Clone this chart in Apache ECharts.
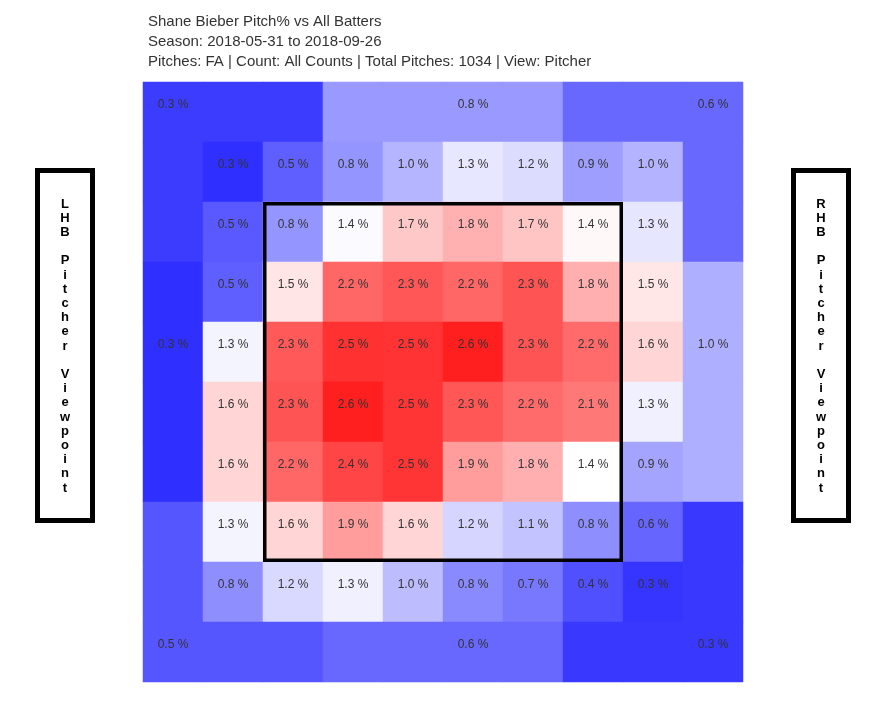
<!DOCTYPE html>
<html>
<head>
<meta charset="utf-8">
<script src="https://cdn.jsdelivr.net/npm/echarts@6/dist/echarts.min.js"></script>
<style>
  html, body { margin: 0; padding: 0; background: #fff; }
  #chart { width: 875px; height: 702px; }
</style>
</head>
<body>
<div id="chart"></div>
<script>
// ---------------- DATA ----------------
const titleLines = [
  'Shane Bieber Pitch% vs All Batters',
  'Season: 2018-05-31 to 2018-09-26',
  'Pitches: FA | Count: All Counts | Total Pitches: 1034 | View: Pitcher'
];
const leftLabel = 'LHB Pitcher Viewpoint';
const rightLabel = 'RHB Pitcher Viewpoint';

// inner 8x8 cells (pitch %), top row first, left column first
const innerRow1 = [0.26, 0.52, 0.82, 0.99, 1.27, 1.21, 0.87, 0.98];
const innerRow2 = [0.49, 0.82, 1.37, 1.70, 1.83, 1.72, 1.44, 1.26];
const innerRow3 = [0.52, 1.54, 2.24, 2.32, 2.24, 2.34, 1.84, 1.53];
const innerRow4 = [1.34, 2.31, 2.53, 2.52, 2.63, 2.34, 2.21, 1.63];
const innerRow5 = [1.63, 2.34, 2.63, 2.51, 2.33, 2.22, 2.14, 1.32];
const innerRow6 = [1.63, 2.24, 2.42, 2.51, 1.94, 1.84, 1.40, 0.90];
const innerRow7 = [1.34, 1.63, 1.94, 1.63, 1.17, 1.07, 0.78, 0.56];
const innerRow8 = [0.78, 1.19, 1.32, 1.03, 0.76, 0.66, 0.44, 0.29];
const innerRows = [innerRow1, innerRow2, innerRow3, innerRow4, innerRow5, innerRow6, innerRow7, innerRow8];

// outer zones: top-left, top-middle, top-right, left-middle, right-middle, bottom-left, bottom-middle, bottom-right
const zoneNames  = ['TL', 'TM', 'TR', 'LM', 'RM', 'BL', 'BM', 'BR'];
const zoneValues = [0.33, 0.84, 0.57, 0.26, 0.96, 0.47, 0.57, 0.31];

// ---------------- LAYOUT ----------------
const N = 10;
const cats = Array.from({length: N}, (_, i) => String(i));
// cell (col,row) where each zone's label is shown
const zoneLabelCell = { TL: [0, 0], TM: [5, 0], TR: [9, 0], LM: [0, 4], RM: [9, 4], BL: [0, 9], BM: [5, 9], BR: [9, 9] };
const strikeZone = [[2, 2, 7, 7]]; // colStart,rowStart,colEnd,rowEnd (category indices)

function zoneOf(r, c) {
  if (r === 0) return c <= 2 ? 'TL' : (c <= 6 ? 'TM' : 'TR');
  if (r === N - 1) return c <= 2 ? 'BL' : (c <= 6 ? 'BM' : 'BR');
  if (c === 0) return r <= 2 ? 'TL' : (r <= 6 ? 'LM' : 'BL');
  return r <= 2 ? 'TR' : (r <= 6 ? 'RM' : 'BR');
}

const heatData = [];
for (let r = 0; r < N; r++) {
  for (let c = 0; c < N; c++) {
    if (r >= 1 && r <= 8 && c >= 1 && c <= 8) {
      heatData.push({ value: [c, r, innerRows[r - 1][c - 1]], label: { show: true } });
    } else {
      const z = zoneOf(r, c);
      const v = zoneValues[zoneNames.indexOf(z)];
      const lc = zoneLabelCell[z];
      heatData.push({ value: [c, r, v], label: { show: lc[0] === c && lc[1] === r } });
    }
  }
}

const FONT = '"Liberation Sans", Arial, Helvetica, sans-serif';
function sideText(s) { return s.split('').map(ch => ch === ' ' ? ' ' : ch).join('\n'); }

const chart = echarts.init(document.getElementById('chart'), null, { renderer: 'canvas' });
chart.setOption({
  backgroundColor: '#fff',
  animation: false,
  title: {
    text: titleLines.join('\n'),
    left: 148, top: 12, padding: 0,
    textStyle: { fontSize: 15, fontWeight: 'normal', color: '#333', lineHeight: 20, fontFamily: FONT }
  },
  grid: { left: 143, top: 82, width: 600, height: 600 },
  xAxis: { type: 'category', data: cats, show: false, boundaryGap: true },
  yAxis: { type: 'category', data: cats, show: false, inverse: true, boundaryGap: true },
  visualMap: {
    show: false, seriesIndex: 0, dimension: 2, min: 0, max: 2.8, calculable: false,
    inRange: { color: ['#0000ff', '#ffffff', '#ff0000'] }
  },
  series: [
    {
      type: 'heatmap',
      data: heatData,
      itemStyle: { borderWidth: 0 },
      emphasis: { disabled: true },
      label: {
        show: true, offset: [0, -7],
        fontSize: 12, fontFamily: FONT, color: '#333',
        formatter: p => p.value[2].toFixed(1) + ' %'
      },
      silent: true
    },
    {
      type: 'custom',
      data: strikeZone,
      encode: { x: [0, 2], y: [1, 3] },
      silent: true,
      clip: false,
      z: 5,
      renderItem: function (params, api) {
        const p0 = api.coord([api.value(0), api.value(1)]);
        const p1 = api.coord([api.value(2), api.value(3)]);
        const s = api.size([1, 1]);
        const x0 = Math.min(p0[0], p1[0]) - s[0] / 2;
        const x1 = Math.max(p0[0], p1[0]) + s[0] / 2;
        const y0 = Math.min(p0[1], p1[1]) - s[1] / 2;
        const y1 = Math.max(p0[1], p1[1]) + s[1] / 2;
        const ins = 1.75;
        return {
          type: 'rect',
          shape: { x: x0 + ins, y: y0 + ins, width: x1 - x0 - 2 * ins, height: y1 - y0 - 2 * ins },
          style: { fill: 'none', stroke: '#000', lineWidth: 3.5 }
        };
      }
    }
  ],
  graphic: [
    { type: 'rect', shape: { x: 37.5, y: 170.5, width: 55, height: 350 },
      style: { fill: '#fff', stroke: '#000', lineWidth: 5 } },
    { type: 'text', x: 65, y: 346,
      style: { text: sideText(leftLabel), font: 'bold 13px ' + FONT, fill: '#000',
        textAlign: 'center', textVerticalAlign: 'middle', align: 'center', verticalAlign: 'middle', lineHeight: 14.2 } },
    { type: 'rect', shape: { x: 793.5, y: 170.5, width: 55, height: 350 },
      style: { fill: '#fff', stroke: '#000', lineWidth: 5 } },
    { type: 'text', x: 821, y: 346,
      style: { text: sideText(rightLabel), font: 'bold 13px ' + FONT, fill: '#000',
        textAlign: 'center', textVerticalAlign: 'middle', align: 'center', verticalAlign: 'middle', lineHeight: 14.2 } }
  ]
});
</script>
</body>
</html>
